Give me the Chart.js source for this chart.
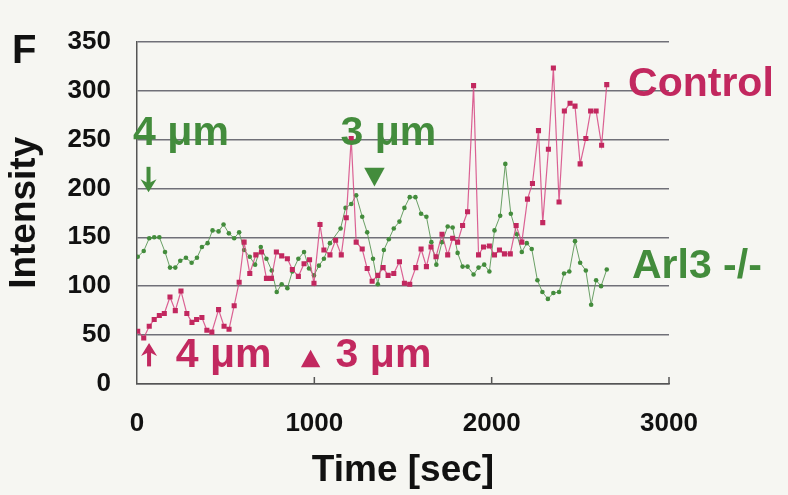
<!DOCTYPE html>
<html>
<head>
    <title>Intensity over time</title>
    <script src="https://cdn.jsdelivr.net/npm/chart.js"></script>
    <style>
        body {
            margin: 0;
            background-color: #f6f6f2; /* paper tone */
        }
        canvas {
            display: block;
        }
    </style>
</head>
<body>

    <canvas id="intensityChart" width="788" height="495"></canvas>

    <script>
        // Control series (magenta)
        var controlTime = [4, 38, 69, 97, 126, 154, 186, 216, 248, 281,
            310, 336, 366, 394, 422, 460, 491, 519, 548, 576,
            604, 636, 670, 702, 730, 758, 786, 816, 848, 876,
            910, 942, 973, 998, 1032, 1054, 1088, 1120, 1152, 1180,
            1208, 1236, 1270, 1298, 1326, 1358, 1388, 1416, 1448, 1480,
            1508, 1538, 1572, 1602, 1632, 1658, 1686, 1720, 1752, 1780,
            1808, 1836, 1864, 1898, 1926, 1954, 1987, 2016, 2044, 2072,
            2105, 2138, 2170, 2202, 2230, 2264, 2288, 2320, 2348, 2380,
            2410, 2442, 2470, 2499, 2531, 2558, 2589, 2620, 2649];
        var controlIntensity = [54, 47, 59, 66, 70, 72, 89, 75, 95, 72,
            63, 66, 68, 55, 53, 76, 59, 56, 80, 104,
            145, 113, 132, 135, 108, 108, 135, 131, 128, 117,
            110, 123, 127, 103, 163, 137, 132, 147, 132, 170,
            251, 145, 138, 118, 105, 111, 119, 111, 113, 125,
            103, 102, 119, 138, 120, 140, 130, 153, 132, 149,
            145, 162, 176, 305, 132, 140, 141, 132, 137, 133,
            133, 162, 145, 189, 205, 259, 165, 240, 323, 186,
            279, 287, 284, 225, 251, 279, 279, 244, 306];

        // Arl3 -/- series (green)
        var arl3Time = [4, 38, 69, 97, 126, 158, 186, 216, 244, 276,
            308, 338, 366, 398, 426, 460, 488, 518, 548, 576,
            604, 636, 666, 698, 730, 760, 788, 816, 848, 876,
            910, 942, 970, 998, 1026, 1054, 1088, 1148, 1176, 1208,
            1236, 1270, 1298, 1331, 1358, 1392, 1420, 1448, 1480, 1508,
            1538, 1570, 1602, 1632, 1660, 1688, 1720, 1752, 1780, 1808,
            1836, 1864, 1898, 1926, 1958, 1987, 2016, 2048, 2077, 2108,
            2142, 2170, 2198, 2226, 2258, 2286, 2317, 2348, 2380, 2408,
            2438, 2470, 2499, 2531, 2561, 2589, 2617, 2649];
        var arl3Intensity = [130, 136, 149, 150, 150, 135, 119, 119, 126, 129,
            124, 129, 140, 144, 157, 156, 163, 154, 149, 155,
            137, 130, 122, 140, 128, 116, 94, 102, 98, 115,
            128, 135, 118, 111, 121, 128, 144, 159, 180, 184,
            193, 171, 155, 128, 102, 137, 148, 159, 166, 180,
            191, 191, 174, 171, 145, 122, 145, 161, 160, 134,
            120, 120, 112, 119, 122, 115, 157, 172, 225, 174,
            153, 135, 144, 138, 106, 94, 87, 93, 94, 113,
            115, 146, 124, 116, 81, 106, 100, 117];

        var xTicks = [0, 1000, 2000, 3000];
        var yTicks = [0, 50, 100, 150, 200, 250, 300, 350];

        var magenta = '#c2285f';
        var green = '#438c3c';

        // text notes placed in data units (time, intensity) - baseline left
        var notes = [
            { text: 'Control', t: 2769, v: 294, color: magenta },
            { text: 'Arl3 -/-', t: 2791, v: 108, color: green },
            { text: '4 \u03bcm', t: -22, v: 244, color: green },
            { text: '3 \u03bcm', t: 1148, v: 244, color: green },
            { text: '4 \u03bcm', t: 219, v: 17, color: magenta },
            { text: '3 \u03bcm', t: 1120, v: 17, color: magenta }
        ];
        // arrows and triangles: t, from -> to (intensity)
        var arrows = [
            { t: 65, from: 222, to: 196, color: green },
            { t: 68, from: 18, to: 42, color: magenta }
        ];
        var triangles = [
            { t: 1339, from: 221, to: 202, color: green },
            { t: 979, from: 17, to: 35, color: magenta }
        ];

        function toPoints(xs, ys) {
            return xs.map(function(t, i) { return { x: t, y: ys[i] }; });
        }

        function drawArrow(ctx, x, y0, y1, color) {
            var dir = y1 > y0 ? 1 : -1;
            var head = 13;
            ctx.save();
            ctx.strokeStyle = color;
            ctx.fillStyle = color;
            ctx.lineWidth = 4;
            ctx.beginPath();
            ctx.moveTo(x, y0);
            ctx.lineTo(x, y1 - dir * head * 0.5);
            ctx.stroke();
            ctx.beginPath();
            ctx.moveTo(x, y1);
            ctx.lineTo(x - 8, y1 - dir * head);
            ctx.lineTo(x, y1 - dir * head * 0.7);
            ctx.lineTo(x + 8, y1 - dir * head);
            ctx.closePath();
            ctx.fill();
            ctx.restore();
        }

        function drawTriangle(ctx, x, y0, y1, color) {
            var half = Math.abs(y1 - y0) * 0.55;
            ctx.save();
            ctx.fillStyle = color;
            ctx.beginPath();
            ctx.moveTo(x, y1);
            ctx.lineTo(x - half, y0);
            ctx.lineTo(x + half, y0);
            ctx.closePath();
            ctx.fill();
            ctx.restore();
        }

        var overlayPlugin = {
            id: 'overlayPlugin',
            afterDraw: function(chart) {
                var ctx = chart.ctx;
                var xs = chart.scales.x;
                var ys = chart.scales.y;

                // small inner tick marks on the time axis
                ctx.save();
                ctx.strokeStyle = '#555';
                ctx.lineWidth = 1.5;
                xTicks.forEach(function(t) {
                    if (t === 0) return;
                    var px = xs.getPixelForValue(t);
                    ctx.beginPath();
                    ctx.moveTo(px, ys.bottom);
                    ctx.lineTo(px, ys.bottom - 7);
                    ctx.stroke();
                });
                ctx.restore();

                // panel letter
                ctx.save();
                ctx.fillStyle = '#111';
                ctx.font = 'bold 40px "Liberation Sans", Arial, sans-serif';
                ctx.textBaseline = 'alphabetic';
                ctx.fillText('F', 12, 63);
                ctx.restore();

                notes.forEach(function(n) {
                    ctx.save();
                    ctx.fillStyle = n.color;
                    ctx.font = 'bold 41px "Liberation Sans", Arial, sans-serif';
                    ctx.textBaseline = 'alphabetic';
                    ctx.fillText(n.text, xs.getPixelForValue(n.t), ys.getPixelForValue(n.v));
                    ctx.restore();
                });

                arrows.forEach(function(a) {
                    drawArrow(ctx, xs.getPixelForValue(a.t), ys.getPixelForValue(a.from), ys.getPixelForValue(a.to), a.color);
                });
                triangles.forEach(function(a) {
                    drawTriangle(ctx, xs.getPixelForValue(a.t), ys.getPixelForValue(a.from), ys.getPixelForValue(a.to), a.color);
                });
            }
        };

        var tickFont = { family: '"Liberation Sans", Arial, sans-serif', size: 26, weight: 'bold' };
        var titleFont = { family: '"Liberation Sans", Arial, sans-serif', size: 37, weight: 'bold' };

        var ctx = document.getElementById('intensityChart').getContext('2d');
        var chart = new Chart(ctx, {
            type: 'scatter',
            plugins: [overlayPlugin],
            data: {
                datasets: [
                    {
                        label: 'Control',
                        data: toPoints(controlTime, controlIntensity),
                        showLine: true,
                        borderColor: 'rgba(214, 70, 130, 0.85)',
                        borderWidth: 1.2,
                        pointStyle: 'rect',
                        pointRadius: 3.6,
                        pointBackgroundColor: magenta,
                        pointBorderColor: magenta,
                        pointBorderWidth: 0
                    },
                    {
                        label: 'Arl3 -/-',
                        data: toPoints(arl3Time, arl3Intensity),
                        showLine: true,
                        borderColor: 'rgba(90, 150, 85, 0.9)',
                        borderWidth: 1,
                        pointStyle: 'circle',
                        pointRadius: 2.3,
                        pointBackgroundColor: green,
                        pointBorderColor: green,
                        pointBorderWidth: 0
                    }
                ]
            },
            options: {
                responsive: false,
                animation: false,
                layout: {
                    padding: { top: 37, right: 119, left: 0, bottom: 0 }
                },
                plugins: {
                    legend: { display: false },
                    tooltip: { enabled: false }
                },
                scales: {
                    x: {
                        type: 'linear',
                        min: 0,
                        max: 3000,
                        afterFit: function(scale) { scale.height = 111; },
                        afterBuildTicks: function(scale) {
                            scale.ticks = xTicks.map(function(v) { return { value: v }; });
                        },
                        grid: { display: false },
                        border: { display: true, color: '#555', width: 1.5 },
                        ticks: {
                            color: '#111',
                            font: tickFont,
                            padding: 16,
                            maxRotation: 0,
                            callback: function(value) { return String(value); }
                        },
                        title: {
                            display: true,
                            text: 'Time [sec]',
                            color: '#111',
                            font: titleFont,
                            padding: { top: 0, bottom: 2 }
                        }
                    },
                    y: {
                        min: 0,
                        max: 350,
                        afterFit: function(scale) { scale.width = 137; },
                        afterBuildTicks: function(scale) {
                            scale.ticks = yTicks.map(function(v) { return { value: v }; });
                        },
                        grid: {
                            color: '#707078',
                            lineWidth: 1.5,
                            drawTicks: false
                        },
                        border: { display: true, color: '#555', width: 1.5 },
                        ticks: {
                            color: '#111',
                            font: tickFont,
                            padding: 26,
                            callback: function(value) { return String(value); }
                        },
                        title: {
                            display: true,
                            text: 'Intensity',
                            color: '#111',
                            font: titleFont,
                            padding: { top: 3, bottom: 0 }
                        }
                    }
                }
            }
        });
    </script>
</body>
</html>
